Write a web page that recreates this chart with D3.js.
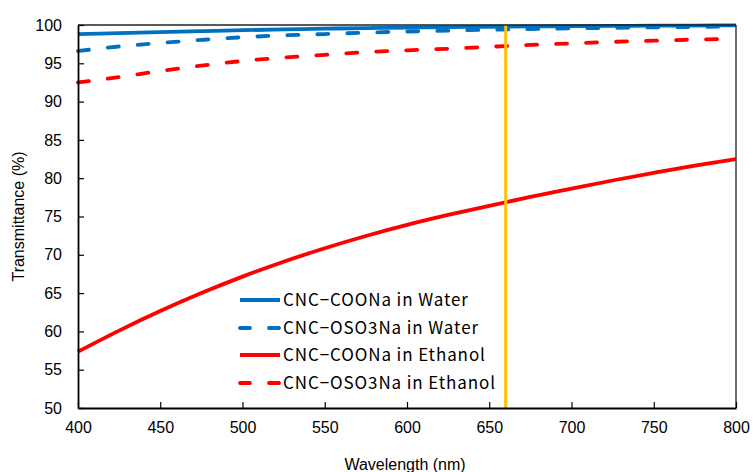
<!DOCTYPE html>
<html><head><meta charset="utf-8">
<script src="https://cdn.jsdelivr.net/npm/d3@7"></script>
<style>body{margin:0;background:#fff}svg{display:block}</style>
</head><body>
<svg id="c" width="753" height="472"></svg>
<script>
const wavelengths = [400,425,450,475,500,525,550,575,600,625,650,675,700,725,750,775,800];
const cooWater   = [98.8,98.95,99.07,99.2,99.32,99.42,99.52,99.6,99.67,99.72,99.77,99.81,99.85,99.88,99.91,99.93,99.95];
const osoWater   = [96.6,97.2,97.65,98.05,98.4,98.65,98.82,99.0,99.15,99.27,99.38,99.47,99.56,99.63,99.7,99.75,99.8];
const cooEthanol = [57.35,60.1,62.65,65.0,67.15,69.1,70.85,72.45,73.9,75.2,76.4,77.55,78.65,79.7,80.7,81.65,82.5];
const osoEthanol = [92.5,93.2,94.0,94.7,95.3,95.75,96.1,96.45,96.7,96.9,97.15,97.4,97.6,97.8,97.95,98.1,98.2];
const seriesNames = ["CNC\u2212COONa in Water","CNC\u2212OSO3Na in Water","CNC\u2212COONa in Ethanol","CNC\u2212OSO3Na in Ethanol"];
const xTicks = [400,450,500,550,600,650,700,750,800];
const yTicks = [50,55,60,65,70,75,80,85,90,95,100];
const markerWavelength = 660;

const series = [
  {name: seriesNames[0], values: cooWater, color: "#0070C0", dash: null},
  {name: seriesNames[1], values: osoWater, color: "#0070C0", dash: "11,19"},
  {name: seriesNames[2], values: cooEthanol, color: "#FF0000", dash: null},
  {name: seriesNames[3], values: osoEthanol, color: "#FF0000", dash: "11,19"}
];

const svg = d3.select("#c");
const L = 78, R = 736, T = 25, B = 408;
const x = d3.scaleLinear().domain([400,800]).range([L,R]);
const y = d3.scaleLinear().domain([50,100]).range([B,T]);
const font = "'Liberation Sans', Arial, sans-serif";

// series lines
const line = d3.line().x((d,i)=>x(wavelengths[i])).y(d=>y(d)).curve(d3.curveMonotoneX);
series.forEach(s=>{
  svg.append("path").attr("d", line(s.values)).attr("fill","none")
    .attr("stroke", s.color).attr("stroke-width", 3.8)
    .attr("stroke-dasharray", s.dash).attr("stroke-linecap", s.dash ? "round" : "butt");
});

// marker line
svg.append("line").attr("x1", x(markerWavelength)).attr("x2", x(markerWavelength))
  .attr("y1", T).attr("y2", B).attr("stroke","#FFC000").attr("stroke-width",3);

// frame
svg.append("line").attr("x1",R).attr("x2",R).attr("y1",T).attr("y2",B).attr("stroke","#404040").attr("stroke-width",1.5);
svg.append("line").attr("x1",L).attr("x2",R).attr("y1",T).attr("y2",T).attr("stroke","#222").attr("stroke-width",1.5);

// axes
const xAxis = d3.axisBottom(x).tickValues(xTicks).tickSizeInner(-6).tickSizeOuter(0).tickPadding(14);
const gx = svg.append("g").attr("transform",`translate(0,${B})`).call(xAxis);
const yAxis = d3.axisLeft(y).tickValues(yTicks).tickSizeInner(-6).tickSizeOuter(0).tickPadding(16);
const gy = svg.append("g").attr("transform",`translate(${L},0)`).call(yAxis);
[gx,gy].forEach(g=>{
  g.select(".domain").attr("stroke","#000").attr("stroke-width",1.8);
  g.selectAll(".tick line").attr("stroke","#000").attr("stroke-width",1.2);
  g.selectAll(".tick text").attr("font-family",font).attr("font-size",16).attr("fill","#000");
});

// titles
svg.append("text").attr("x",405).attr("y",470).attr("text-anchor","middle")
  .attr("font-family",font).attr("font-size",16).text("Wavelength (nm)");
svg.append("text").attr("transform",`translate(24,${(T+B)/2}) rotate(-90)`).attr("text-anchor","middle")
  .attr("font-family",font).attr("font-size",16).text("Transmittance (%)");

// legend
const lg = svg.append("g");
const rowY = [300,328,355,383];
series.forEach((s,i)=>{
  lg.append("line").attr("x1",240).attr("x2",280).attr("y1",rowY[i]).attr("y2",rowY[i])
    .attr("stroke",s.color).attr("stroke-width",3.8)
    .attr("stroke-dasharray", s.dash ? "10,19" : null).attr("stroke-linecap", s.dash ? "round":"butt");
  lg.append("text").attr("x",283).attr("y",rowY[i]+6).attr("font-family","'Noto Sans CJK JP', sans-serif")
    .attr("font-size",17).attr("letter-spacing",0.9).attr("fill","#000").text(s.name);
});
</script>
</body></html>
